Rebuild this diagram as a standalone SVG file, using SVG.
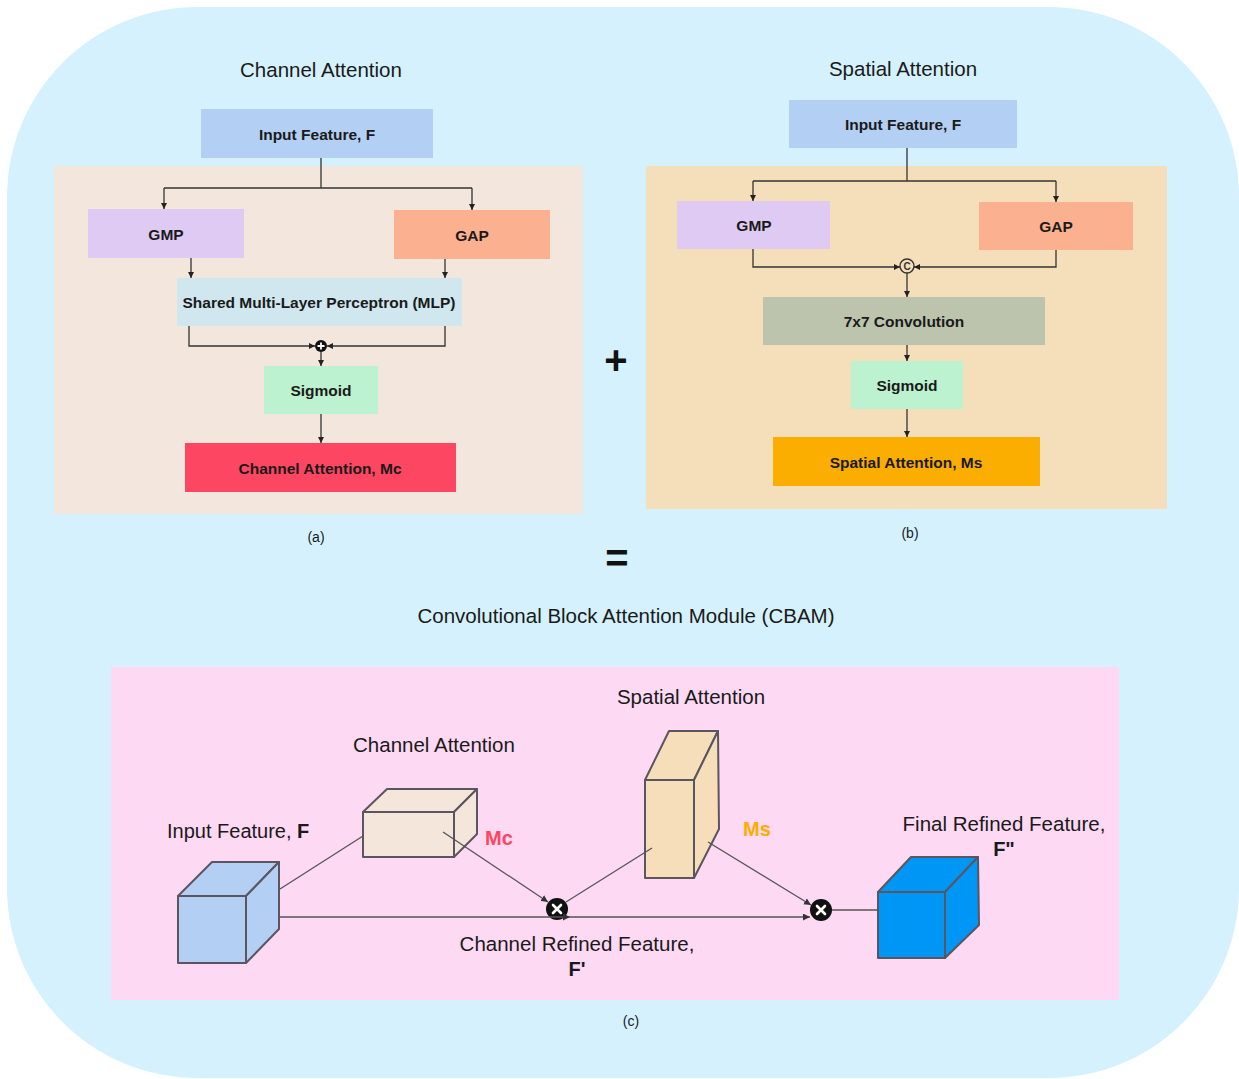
<svg xmlns="http://www.w3.org/2000/svg" width="1239" height="1079" viewBox="0 0 1239 1079">
  <defs>
    <style>
      .lbl { font-family: "Liberation Sans", Arial, sans-serif; font-size: 15.5px; font-weight: bold; fill: #1a1a1a; text-anchor: middle; dominant-baseline: central; }
      .title { font-family: "Liberation Sans", Arial, sans-serif; font-size: 20.5px; fill: #1a1a1a; text-anchor: middle; }
      .cap { font-family: "Liberation Sans", Arial, sans-serif; font-size: 14px; fill: #1a1a1a; text-anchor: middle; }
      .sign { font-family: "Liberation Sans", Arial, sans-serif; font-size: 40px; font-weight: bold; fill: #111; text-anchor: middle; }
      .wire { fill: none; stroke: #333; stroke-width: 1.3; }
      .thin { fill: none; stroke: #555; stroke-width: 1.3; }
      .cube { stroke: #5b5560; stroke-width: 2; stroke-linejoin: round; }
    </style>
    <marker id="ah" viewBox="0 0 10 10" refX="10" refY="5" markerWidth="6" markerHeight="6" markerUnits="userSpaceOnUse" orient="auto">
      <path d="M0,0 L10,5 L0,10 z" fill="#222"/>
    </marker>
    <marker id="ah2" viewBox="0 0 10 10" refX="10" refY="5" markerWidth="7" markerHeight="7" markerUnits="userSpaceOnUse" orient="auto">
      <path d="M0,0 L10,5 L0,10 z" fill="#333"/>
    </marker>
  </defs>

  <!-- page background -->
  <rect x="0" y="0" width="1239" height="1079" fill="#ffffff"/>
  <rect x="7" y="7" width="1232" height="1071" rx="190" ry="190" fill="#d5f1fd"/>

  <!-- panel backgrounds -->
  <rect x="54" y="166" width="529" height="348" fill="#f3e6dc"/>
  <rect x="646" y="166" width="521" height="343" fill="#f5dfbb"/>
  <rect x="111" y="667" width="1008" height="333" fill="#fdd9f3"/>

  <!-- titles and captions -->
  <text class="title" x="321" y="77">Channel Attention</text>
  <text class="title" x="903" y="76">Spatial Attention</text>
  <text class="cap" x="316" y="542">(a)</text>
  <text class="cap" x="910" y="538">(b)</text>
  <text class="title" x="626" y="623">Convolutional Block Attention Module (CBAM)</text>
  <text class="cap" x="631" y="1026">(c)</text>
  <text class="sign" x="616" y="374">+</text>
  <text class="sign" x="617" y="572">=</text>

  <!-- (a) channel attention nodes -->
  <g id="a-input"><rect x="201" y="109" width="232" height="49" fill="#b3cff4"/><text class="lbl" x="317" y="134">Input Feature, F</text></g>
  <g id="a-gmp"><rect x="88" y="209" width="156" height="49" fill="#dfcaf4"/><text class="lbl" x="166" y="234">GMP</text></g>
  <g id="a-gap"><rect x="394" y="210" width="156" height="49" fill="#fbb090"/><text class="lbl" x="472" y="235">GAP</text></g>
  <g id="a-mlp"><rect x="177" y="278" width="285" height="48" fill="#d0e7f0"/><text class="lbl" x="319" y="302">Shared Multi-Layer Perceptron (MLP)</text></g>
  <g id="a-sum"><circle cx="321" cy="346" r="6" fill="#111"/><path d="M317.5,346 H324.5 M321,342.5 V349.5" stroke="#fff" stroke-width="1.8"/></g>
  <g id="a-sigmoid"><rect x="264" y="366" width="114" height="48" fill="#bcf2d0"/><text class="lbl" x="321" y="390">Sigmoid</text></g>
  <g id="a-mc"><rect x="185" y="443" width="271" height="49" fill="#fd4662"/><text class="lbl" x="320" y="468">Channel Attention, Mc</text></g>

  <!-- (b) spatial attention nodes -->
  <g id="b-input"><rect x="789" y="100" width="228" height="48" fill="#b3cff4"/><text class="lbl" x="903" y="124">Input Feature, F</text></g>
  <g id="b-gmp"><rect x="677" y="201" width="153" height="48" fill="#dfcaf4"/><text class="lbl" x="754" y="225">GMP</text></g>
  <g id="b-gap"><rect x="979" y="202" width="154" height="48" fill="#fbb090"/><text class="lbl" x="1056" y="226">GAP</text></g>
  <g id="b-concat"><circle cx="907" cy="266" r="7" fill="none" stroke="#333" stroke-width="1.4"/><text x="907" y="266.5" font-family="Liberation Sans, Arial, sans-serif" font-size="10" font-weight="bold" fill="#333" text-anchor="middle" dominant-baseline="central">C</text></g>
  <g id="b-conv"><rect x="763" y="297" width="282" height="48" fill="#bcc4ae"/><text class="lbl" x="904" y="321">7x7 Convolution</text></g>
  <g id="b-sigmoid"><rect x="851" y="361" width="112" height="48" fill="#bcf2d0"/><text class="lbl" x="907" y="385">Sigmoid</text></g>
  <g id="b-ms"><rect x="773" y="437" width="267" height="49" fill="#fbad00"/><text class="lbl" x="906" y="462">Spatial Attention, Ms</text></g>

  <!-- (c) CBAM pipeline nodes -->
  <g id="c-input">
    <path class="cube" d="M178,896 L212,862 L279,862 L246,896 Z" fill="#b3cff4"/>
    <path class="cube" d="M246,896 L279,862 L279,929 L246,963 Z" fill="#b3cff4"/>
    <rect class="cube" x="178" y="896" width="68" height="67" fill="#b3cff4"/>
    <text x="167" y="838" font-family="Liberation Sans, Arial, sans-serif" font-size="20" fill="#1a1a1a">Input Feature, <tspan font-weight="bold">F</tspan></text>
  </g>
  <g id="c-channel">
    <path class="cube" d="M363,812 L387,789 L477,789 L454,812 Z" fill="#f4e6da"/>
    <path class="cube" d="M454,812 L477,789 L477,834 L454,857 Z" fill="#f4e6da"/>
    <rect class="cube" x="363" y="812" width="91" height="45" fill="#f4e6da"/>
    <text class="title" x="434" y="752">Channel Attention</text>
    <text x="485" y="845" font-family="Liberation Sans, Arial, sans-serif" font-size="20" font-weight="bold" fill="#fd4662">Mc</text>
  </g>
  <g id="c-spatial">
    <path class="cube" d="M645,780 L669,731 L718,731 L694,780 Z" fill="#f5deb9"/>
    <path class="cube" d="M694,780 L718,731 L719,829 L694,878 Z" fill="#f5deb9"/>
    <rect class="cube" x="645" y="780" width="49" height="98" fill="#f5deb9"/>
    <text class="title" x="691" y="704">Spatial Attention</text>
    <text x="743" y="836" font-family="Liberation Sans, Arial, sans-serif" font-size="20" font-weight="bold" fill="#fbad00">Ms</text>
  </g>
  <g id="c-mul1">
    <circle cx="557" cy="909" r="11" fill="#111"/>
    <path d="M553,905 L561,913 M561,905 L553,913" stroke="#fff" stroke-width="2.6" stroke-linecap="round"/>
    <text class="title" x="577" y="951">Channel Refined Feature,</text>
    <text x="577" y="976" font-family="Liberation Sans, Arial, sans-serif" font-size="20" font-weight="bold" fill="#1a1a1a" text-anchor="middle">F'</text>
  </g>
  <g id="c-mul2">
    <circle cx="821" cy="910" r="11" fill="#111"/>
    <path d="M817,906 L825,914 M825,906 L817,914" stroke="#fff" stroke-width="2.6" stroke-linecap="round"/>
  </g>
  <g id="c-output">
    <path class="cube" d="M878,892 L911,857 L978,857 L945,892 Z" fill="#0096f5"/>
    <path class="cube" d="M945,892 L978,857 L979,925 L945,958 Z" fill="#0096f5"/>
    <rect class="cube" x="878" y="892" width="67" height="66" fill="#0096f5"/>
    <text class="title" x="1004" y="831">Final Refined Feature,</text>
    <text x="1004" y="856" font-family="Liberation Sans, Arial, sans-serif" font-size="20" font-weight="bold" fill="#1a1a1a" text-anchor="middle">F"</text>
  </g>

  <!-- connectors -->
  <g id="connectors">
    <!-- (a) -->
    <path class="wire" d="M321,158 V188"/>
    <path class="wire" d="M164,188 H472"/>
    <path class="wire" d="M164,188 V209" marker-end="url(#ah)"/>
    <path class="wire" d="M472,188 V210" marker-end="url(#ah)"/>
    <path class="wire" d="M191,258 V278" marker-end="url(#ah)"/>
    <path class="wire" d="M445,259 V278" marker-end="url(#ah)"/>
    <path class="wire" d="M189,326 V346 H315" marker-end="url(#ah)"/>
    <path class="wire" d="M445,326 V346 H327" marker-end="url(#ah)"/>
    <path class="wire" d="M321,352 V366" marker-end="url(#ah)"/>
    <path class="wire" d="M321,414 V443" marker-end="url(#ah)"/>
    <!-- (b) -->
    <path class="wire" d="M907,148 V181"/>
    <path class="wire" d="M753,181 H1056"/>
    <path class="wire" d="M753,181 V201" marker-end="url(#ah)"/>
    <path class="wire" d="M1056,181 V202" marker-end="url(#ah)"/>
    <path class="wire" d="M753,249 V267 H900" marker-end="url(#ah)"/>
    <path class="wire" d="M1056,250 V267 H914" marker-end="url(#ah)"/>
    <path class="wire" d="M907,273 V297" marker-end="url(#ah)"/>
    <path class="wire" d="M907,345 V361" marker-end="url(#ah)"/>
    <path class="wire" d="M907,409 V437" marker-end="url(#ah)"/>
    <!-- (c) -->
    <path class="thin" d="M280,889 L363,836"/>
    <path class="thin" d="M280,917 H570" marker-end="url(#ah2)"/>
    <path class="thin" d="M570,917 H810" marker-end="url(#ah2)"/>
    <path class="thin" d="M443,832 L548,902" marker-end="url(#ah2)"/>
    <path class="thin" d="M566,902 L652,848"/>
    <path class="thin" d="M708,842 L811,905" marker-end="url(#ah2)"/>
    <path class="thin" d="M832,910 H878"/>
  </g>
</svg>
